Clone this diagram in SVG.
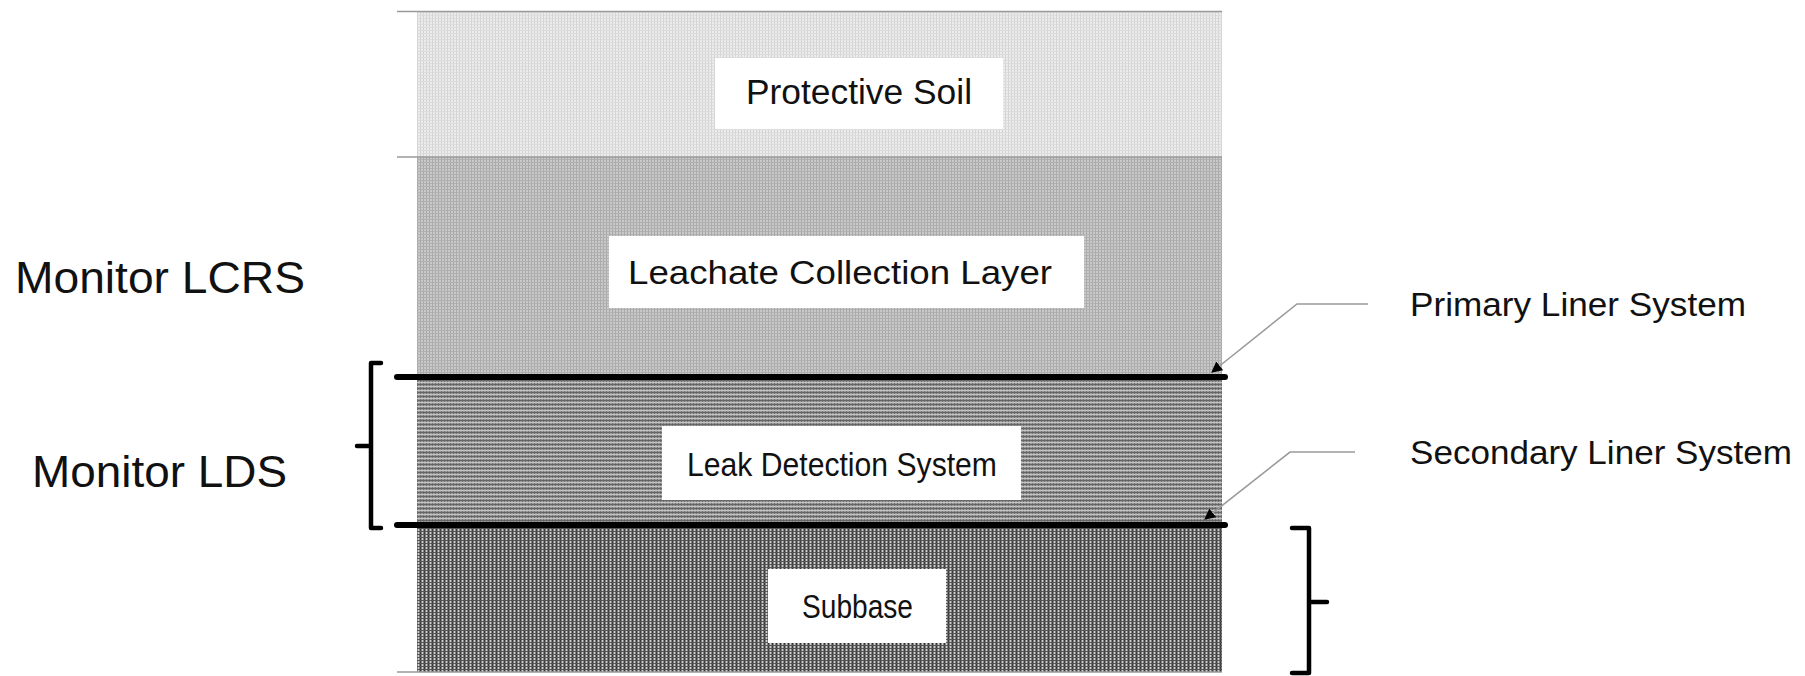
<svg xmlns="http://www.w3.org/2000/svg" width="1805" height="676" viewBox="0 0 1805 676">
<style>
.lbl{font-family:"Liberation Sans",Arial,sans-serif;fill:#111;}
.thin{stroke:#9a9a9a;stroke-width:1.6;fill:none;}
.liner{stroke:#000;stroke-width:6;stroke-linecap:round;fill:none;}
.brk{stroke:#000;stroke-width:4.5;fill:none;stroke-linejoin:round;stroke-linecap:round;}
.lead{stroke:#9a9a9a;stroke-width:1.6;fill:none;}
.box{fill:#fff;}
</style>
<defs>
<pattern id="p1" width="3" height="3" patternUnits="userSpaceOnUse">
<rect width="3" height="3" fill="#ececec"/><rect width="1" height="3" fill="#d3d3d3"/><rect width="3" height="1" fill="#dcdcdc"/>
</pattern>
<pattern id="p2" width="3" height="3" patternUnits="userSpaceOnUse">
<rect width="3" height="3" fill="#c9c9c9"/><rect width="1" height="3" fill="#a9a9a9"/><rect width="3" height="1" fill="#b0b0b0"/>
</pattern>
<pattern id="p3" width="3" height="4" patternUnits="userSpaceOnUse">
<rect width="3" height="4" fill="#9c9c9c"/><rect width="1" height="4" fill="#747474"/><rect width="3" height="1" fill="#666"/><rect y="2" width="3" height="1" fill="#c4c4c4"/>
</pattern>
<pattern id="p4" width="4" height="3" patternUnits="userSpaceOnUse">
<rect width="4" height="3" fill="#848484"/><rect width="1" height="3" fill="#383838"/><rect x="2" width="1" height="3" fill="#cfcfcf"/><rect width="4" height="1" fill="#555"/>
</pattern>
<marker id="ah" viewBox="0 0 10 10" refX="9" refY="5" markerWidth="11" markerHeight="11" markerUnits="userSpaceOnUse" orient="auto">
<path d="M0,0 L10,5 L0,10 Z" fill="#000"/>
</marker>
</defs>

<g id="protective-soil">
<rect x="417" y="12" width="805" height="145" fill="url(#p1)"/>
<rect class="box" x="715" y="58" width="288" height="71"/>
<text class="lbl" x="746" y="104" font-size="35" textLength="226" lengthAdjust="spacingAndGlyphs">Protective Soil</text>
</g>
<g id="leachate-collection-layer">
<rect x="417" y="157" width="805" height="220" fill="url(#p2)"/>
<rect class="box" x="609" y="236" width="475" height="72"/>
<text class="lbl" x="628" y="284" font-size="33" textLength="424" lengthAdjust="spacingAndGlyphs">Leachate Collection Layer</text>
</g>
<g id="leak-detection-system">
<rect x="417" y="377" width="805" height="148" fill="url(#p3)"/>
<rect class="box" x="662" y="426" width="359" height="74"/>
<text class="lbl" x="687" y="476" font-size="33" textLength="310" lengthAdjust="spacingAndGlyphs">Leak Detection System</text>
</g>
<g id="subbase">
<rect x="417" y="525" width="805" height="147" fill="url(#p4)"/>
<rect class="box" x="768" y="569" width="178" height="74"/>
<text class="lbl" x="802" y="618" font-size="33" textLength="111" lengthAdjust="spacingAndGlyphs">Subbase</text>
</g>

<g id="boundaries">
<line class="thin" x1="397" y1="11.5" x2="1222" y2="11.5"/>
<line class="thin" x1="397" y1="157" x2="1222" y2="157"/>
<line class="thin" x1="397" y1="672" x2="1222" y2="672"/>
</g>

<g id="primary-liner">
<line class="liner" x1="397" y1="377" x2="1225" y2="377"/>
</g>
<g id="secondary-liner">
<line class="liner" x1="397" y1="525" x2="1225" y2="525"/>
</g>

<g id="monitor-lcrs">
<text class="lbl" x="15" y="293" font-size="45" textLength="290" lengthAdjust="spacingAndGlyphs">Monitor LCRS</text>
</g>
<g id="monitor-lds">
<path class="brk" d="M381,363 H371 V528 H381 M371,446 H357"/>
<text class="lbl" x="32" y="487" font-size="45" textLength="255" lengthAdjust="spacingAndGlyphs">Monitor LDS</text>
</g>
<g id="subbase-bracket">
<path class="brk" d="M1292,528 H1309 V673 H1292 M1309,602 H1327"/>
</g>

<g id="primary-liner-label">
<text class="lbl" x="1410" y="316" font-size="33" textLength="336" lengthAdjust="spacingAndGlyphs">Primary Liner System</text>
</g>
<g id="secondary-liner-label">
<text class="lbl" x="1410" y="464" font-size="33" textLength="382" lengthAdjust="spacingAndGlyphs">Secondary Liner System</text>
</g>

<g id="connectors">
<path class="lead" d="M1368,304 H1297 L1212,372" marker-end="url(#ah)"/>
<path class="lead" d="M1355,452 H1290 L1205,519" marker-end="url(#ah)"/>
</g>
</svg>
